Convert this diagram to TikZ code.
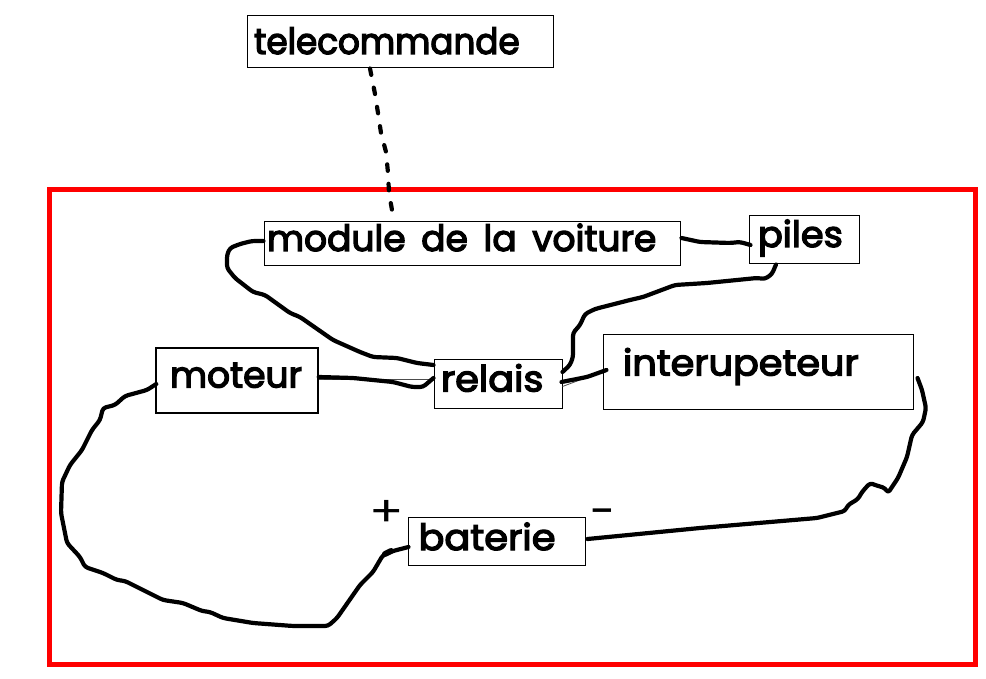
\documentclass[tikz,border=0pt]{standalone}
\usepackage{fontspec}
\setmainfont[FakeBold=3.6]{Poppins}
\newfontfamily\signfont{Poppins}
\newcommand{\lbl}[5]{\smash{\makebox[0pt][l]{\hspace{#1pt}\raisebox{#2pt}{\fontsize{#3pt}{#3pt}\selectfont\scalebox{#4}[1]{#5}}}}}
\tikzset{
  boxn/.style={draw=black,line width=1pt,fill=white,inner sep=0pt,rectangle},
  sign/.style={inner sep=0pt},
  wire/.style={draw=black,line width=4.2pt,line cap=round,line join=round,rounded corners=3pt},
  thinw/.style={draw=black!70,line width=.8pt},
  frame/.style={draw=red,line width=5pt}
}
\begin{document}
\begin{tikzpicture}[x=1pt,y=-1pt]
\useasboundingbox (0,0) rectangle (986,679);
\fill[white] (0,0) rectangle (986,679);
\draw[frame] (49,189.5) rectangle (975,664);
\node[boxn,minimum width=306pt,minimum height=52pt] (tele) at (400,42) {\lbl{-146}{-12}{36}{.95}{telecommande}};
\node[boxn,minimum width=416pt,minimum height=44pt] (mod) at (472,244) {\lbl{-205}{-7}{36}{1.0}{module\hspace{6pt} de\hspace{6pt} la\hspace{6pt} voiture}};
\node[boxn,minimum width=110pt,minimum height=48pt] (pil) at (804,240) {\lbl{-46}{-7}{36}{1.02}{piles}};
\node[boxn,minimum width=310pt,minimum height=75pt] (int) at (758,371.5) {\lbl{-135}{-4}{36}{1.06}{interupeteur}};
\node[boxn,minimum width=128pt,minimum height=49pt] (rel) at (498,383.5) {\lbl{-57}{-8}{36}{1.06}{relais}};
\node[boxn,line width=1.5pt,minimum width=162pt,minimum height=65pt] (mot) at (237,380.5) {\lbl{-67}{-7}{36}{1}{moteur}};
\node[boxn,minimum width=177pt,minimum height=48pt] (bat) at (496.5,541) {\lbl{-78}{-9}{36}{1.065}{baterie}};
\node[sign,font=\signfont\fontsize{42pt}{42pt}\selectfont] (plus) at (387,513) {\scalebox{1.2}[1]{+}};
\node[sign,font=\signfont\fontsize{46pt}{46pt}\selectfont] (minus) at (603,518) {-};
% thin original connectors
\draw[thinw] ([yshift=1.5pt]mot.east) -- ([yshift=4.5pt]rel.west);
\draw[thinw] ([yshift=-3pt]rel.east) -- (int.west);
% hand-drawn wires
\draw[wire] ([yshift=3pt]mod.west) -- (252,241) -- (240,244) -- (230,248) -- (227,255) -- (227,268) -- (235,278) -- (253,292) -- (265,295) -- (290,313) -- (300,317) -- (333,340) -- (360,352) -- (373,357) -- (397,358) -- (417,363) -- ([yshift=18.5pt]rel.west);
\draw[wire] ([yshift=3.5pt]mot.east) -- (353,378) -- (393,382) -- (412,387) -- (423,387) -- ([yshift=5.5pt]rel.west);
\draw[wire] ([xshift=1pt,yshift=6pt]mod.east) -- (700,242) -- (730,243) -- (740,242) -- ([xshift=2pt,yshift=-5pt]pil.west);
\draw[wire] ([xshift=-28pt]pil.south) -- (772,274) -- (765,279) -- (757,278) -- (707,283) -- (675,285) -- (643,297) -- (630,300) -- (595,309) -- (585,314) -- (580,325) -- (573,333) -- (573,357) -- (570,365) -- ([yshift=11.5pt]rel.east);
\draw[wire] ([xshift=-1pt,yshift=1.5pt]rel.east) -- (587,377) -- ([xshift=4pt,yshift=1.5pt]int.west);
\draw[wire] ([xshift=4pt,yshift=-6.5pt]int.east) -- (922,390) -- (926,408) -- (923,422) -- (912,435) -- (907,457) -- (898,478) -- (888,493) -- (885,488) -- (875,485) -- (870,483) -- (862,492) -- (858,499) -- (848,505) -- (845,511) -- (817,518) -- (700,528) -- ([xshift=2pt,yshift=2pt]bat.east);
\draw[wire] ([xshift=1pt,yshift=-3.5pt]mot.west) -- (147,390) -- (125,396) -- (115,405) -- (103,408) -- (100,420) -- (92,430) -- (82,450) -- (70,465) -- (62,482) -- (61,513) -- (67,543) -- (80,557) -- (85,567) -- (103,573) -- (117,580) -- (125,581) -- (163,600) -- (183,603) -- (202,611) -- (210,612) -- (223,618) -- (253,623) -- (293,626) -- (328,626) -- (337,618) -- (360,585) -- (373,572) -- (383,555) -- (393,551) -- ([xshift=1pt,yshift=-6pt]bat.west);
\draw[wire,line width=6pt] (385,554) -- (391,551);
% dotted wire
\draw[wire,rounded corners=0pt,dash pattern=on 6.5pt off 13pt] ([xshift=-30pt]tele.south) -- (375,94) -- (378,113) -- (381,133) -- (386,152) -- (388,173) -- (389,193) -- (392,210) -- ([xshift=-78pt]mod.north);
\end{tikzpicture}
\end{document}
